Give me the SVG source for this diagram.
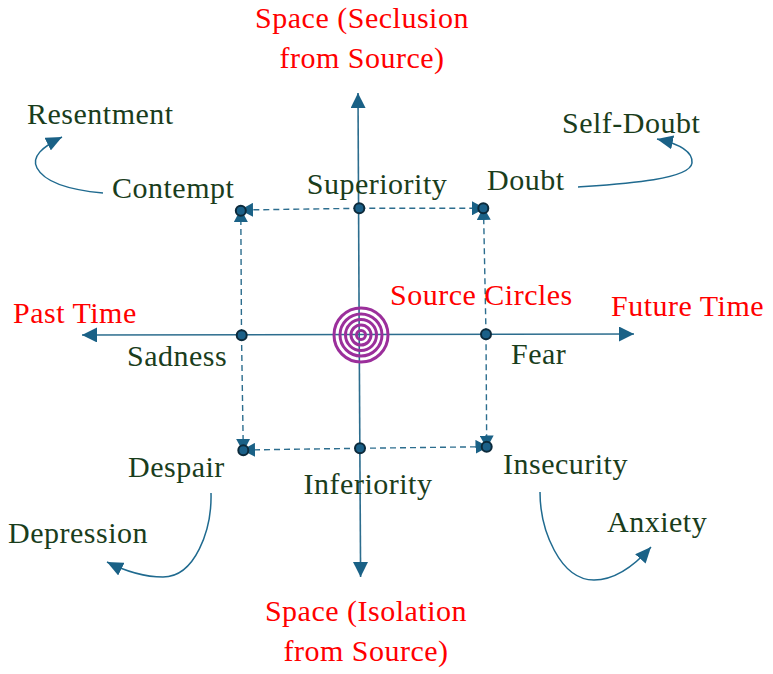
<svg xmlns="http://www.w3.org/2000/svg" width="773" height="674" viewBox="0 0 773 674">
<defs>
<style>
text{font-family:"Liberation Serif","Times New Roman",serif;font-size:30px;letter-spacing:0.5px}
.lbl{fill:#1a3d1c}
.red{fill:#ff0000}
.axis{stroke:#2c6d8e;stroke-width:1.6;fill:none}
.dash{stroke:#2c6d8e;stroke-width:1.4;stroke-dasharray:6 4;fill:none}
.curve{stroke:#1f6a8f;stroke-width:1.5;fill:none}
.dot{fill:#1b6088;stroke:#0c2a3b;stroke-width:2}
.ring{fill:none;stroke:#9b2f9b;stroke-width:3}
</style>
<marker id="ax" markerWidth="15" markerHeight="15" refX="15" refY="7.5" orient="auto" markerUnits="userSpaceOnUse"><path d="M0,0 L15,7.5 L0,15 z" fill="#1a6186"/></marker>
<marker id="da" markerWidth="13" markerHeight="14" refX="12" refY="7" orient="auto" markerUnits="userSpaceOnUse"><path d="M0,0 L13,7 L0,14 z" fill="#1a6186"/></marker>
<marker id="cu" markerWidth="16" markerHeight="14" refX="16" refY="7" orient="auto" markerUnits="userSpaceOnUse"><path d="M0,0 L16,7 L0,14 z" fill="#1a6186"/></marker>
</defs>
<rect width="773" height="674" fill="#ffffff"/>
<g id="connectors">
<line class="axis" x1="359.2" y1="335" x2="358" y2="93" marker-end="url(#ax)"/>
<line class="axis" x1="359.2" y1="335" x2="360.6" y2="577" marker-end="url(#ax)"/>
<line class="axis" x1="360" y1="334.5" x2="82" y2="335" marker-end="url(#ax)"/>
<line class="axis" x1="360" y1="334.5" x2="634" y2="334" marker-end="url(#ax)"/>
<line class="dash" x1="359.3" y1="208.3" x2="241" y2="210" marker-end="url(#da)"/>
<line class="dash" x1="359.3" y1="208.3" x2="484" y2="208.3" marker-end="url(#da)"/>
<line class="dash" x1="241.5" y1="335" x2="240.8" y2="210" marker-end="url(#da)"/>
<line class="dash" x1="241.5" y1="335" x2="243.3" y2="451" marker-end="url(#da)"/>
<line class="dash" x1="486" y1="334.3" x2="483.5" y2="208" marker-end="url(#da)"/>
<line class="dash" x1="486" y1="334.3" x2="486.7" y2="447.5" marker-end="url(#da)"/>
<line class="dash" x1="360" y1="448.3" x2="243" y2="450" marker-end="url(#da)"/>
<line class="dash" x1="360" y1="448.3" x2="487.5" y2="446.7" marker-end="url(#da)"/>
<path class="curve" d="M103,193 C70,190 45,183 37,168 C31,157 42,147 62,137" marker-end="url(#cu)"/>
<path class="curve" d="M578,187 C620,184 690,180 692,163 C693,152 680,144 657,139" marker-end="url(#cu)"/>
<path class="curve" d="M211,493 C212,530 195,577 163,577 C145,577 125,571 107,562" marker-end="url(#cu)"/>
<path class="curve" d="M540,492 C540,530 560,580 594,580 C615,580 635,565 651,547" marker-end="url(#cu)"/>
</g>
<g id="source-circles">
<circle class="ring" cx="361" cy="335" r="27"/>
<circle class="ring" cx="361" cy="335" r="21"/>
<circle class="ring" cx="361" cy="335" r="15.5"/>
<circle class="ring" cx="361" cy="335" r="10"/>
<circle class="ring" cx="361" cy="335" r="4.5"/>
<text class="red" x="390" y="305">Source Circles</text>
</g>
<g id="node-superiority"><circle class="dot" cx="359.3" cy="208.3" r="5"/><text class="lbl" x="377" y="194" text-anchor="middle">Superiority</text></g>
<g id="node-contempt"><circle class="dot" cx="240.8" cy="210.7" r="5"/><text class="lbl" x="112" y="198">Contempt</text></g>
<g id="node-doubt"><circle class="dot" cx="483.3" cy="208.3" r="5"/><text class="lbl" x="487" y="190">Doubt</text></g>
<g id="node-sadness"><circle class="dot" cx="241.7" cy="335.3" r="5"/><text class="lbl" x="127" y="366">Sadness</text></g>
<g id="node-fear"><circle class="dot" cx="486" cy="334.3" r="5"/><text class="lbl" x="511" y="364">Fear</text></g>
<g id="node-despair"><circle class="dot" cx="243.3" cy="450.3" r="5"/><text class="lbl" x="128" y="477">Despair</text></g>
<g id="node-inferiority"><circle class="dot" cx="360" cy="448.3" r="5"/><text class="lbl" x="368" y="494" text-anchor="middle">Inferiority</text></g>
<g id="node-insecurity"><circle class="dot" cx="486.7" cy="446.7" r="5"/><text class="lbl" x="503" y="474">Insecurity</text></g>
<g id="node-resentment"><text class="lbl" x="27" y="124">Resentment</text></g>
<g id="node-self-doubt"><text class="lbl" x="562" y="133">Self-Doubt</text></g>
<g id="node-depression"><text class="lbl" x="8" y="543">Depression</text></g>
<g id="node-anxiety"><text class="lbl" x="607" y="532">Anxiety</text></g>
<g id="label-space-top"><text class="red" x="362" y="28" text-anchor="middle">Space (Seclusion</text><text class="red" x="362" y="68" text-anchor="middle">from Source)</text></g>
<g id="label-space-bottom"><text class="red" x="366" y="621" text-anchor="middle">Space (Isolation</text><text class="red" x="366" y="661" text-anchor="middle">from Source)</text></g>
<g id="label-past"><text class="red" x="13" y="323">Past Time</text></g>
<g id="label-future"><text class="red" x="611" y="316">Future Time</text></g>
</svg>
